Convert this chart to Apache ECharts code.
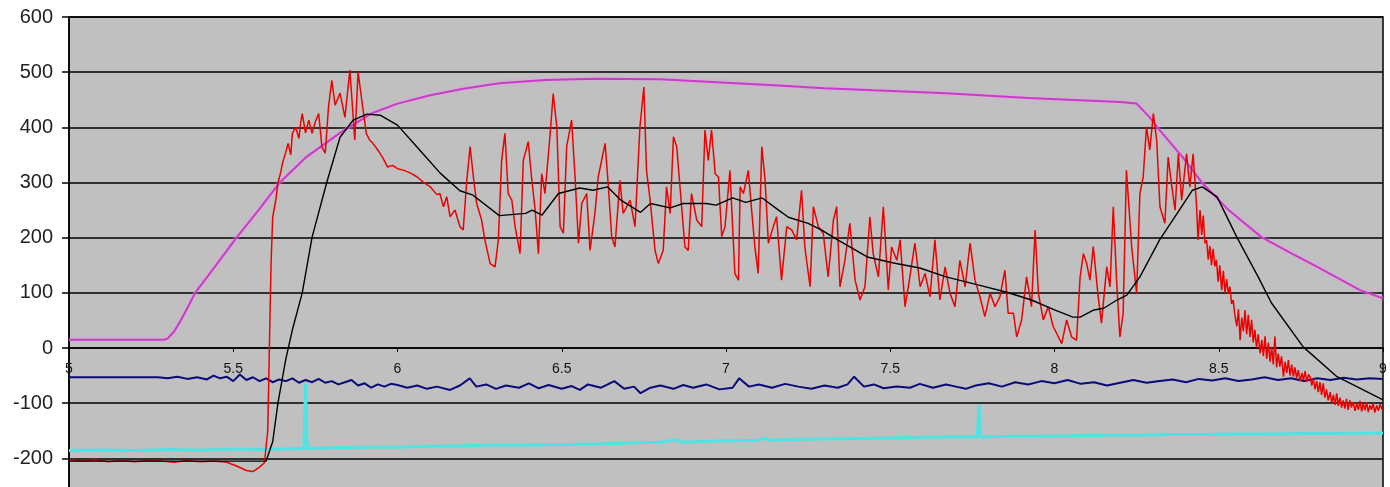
<!DOCTYPE html>
<html><head><meta charset="utf-8">
<script src="https://cdn.jsdelivr.net/npm/echarts@6/dist/echarts.min.js"></script>
<style>html,body{margin:0;padding:0;background:#fff}#c{width:1390px;height:487px}</style>
</head><body><div id="c"></div>
<script>
const magenta = [[5,15],[5.29,15],[5.30,17],[5.32,30],[5.34,50],[5.36,72],[5.384,100],[5.45,152],[5.51,200],[5.58,252],[5.64,299],[5.72,345],[5.825,390],[5.92,425],[6.0,443],[6.1,458],[6.2,470],[6.31,480],[6.45,486],[6.6,488],[6.8,487],[7.0,481],[7.16,476],[7.3,471],[7.45,467],[7.67,462],[7.92,453],[8.2,446],[8.25,443],[8.29,418],[8.32,395],[8.39,346],[8.45,299],[8.53,250],[8.63,201],[8.72,172],[8.8,147],[8.93,105],[9,90]];

const red = [[5.00,-203],[5.04,-205],[5.08,-203],[5.12,-206],[5.16,-204],[5.20,-206],[5.24,-204],[5.28,-205],[5.32,-207],[5.36,-204],[5.40,-206],[5.44,-205],[5.48,-207],[5.51,-214],[5.54,-222],[5.56,-224],[5.58,-216],[5.595,-208],[5.605,-150],[5.61,0],[5.615,150],[5.62,237],[5.63,270],[5.636,299],[5.645,320],[5.65,335],[5.66,355],[5.667,371],[5.675,350],[5.68,389],[5.69,400],[5.70,380],[5.705,407],[5.71,425],[5.72,390],[5.73,413],[5.74,389],[5.75,410],[5.76,425],[5.77,364],[5.78,353],[5.79,437],[5.80,485],[5.81,440],[5.825,462],[5.84,418],[5.855,504],[5.87,377],[5.88,500],[5.89,455],[5.905,389],[5.915,377],[5.925,371],[5.94,359],[5.955,345],[5.97,328],[5.985,331],[6.00,325],[6.02,322],[6.04,317],[6.06,310],[6.08,300],[6.10,292],[6.12,278],
[6.129,280],[6.140,256],[6.150,274],[6.160,238],[6.175,250],[6.190,220],[6.200,214],[6.211,304],[6.221,365],[6.231,310],[6.241,262],[6.256,232],[6.266,196],[6.282,153],[6.297,147],[6.307,196],[6.317,340],[6.327,389],[6.337,280],[6.348,268],[6.358,220],[6.373,171],[6.383,340],[6.398,374],[6.408,310],[6.419,250],[6.429,171],[6.439,316],[6.449,280],[6.464,383],[6.474,461],[6.485,401],[6.495,220],[6.505,208],[6.515,365],[6.530,413],[6.540,316],[6.551,190],[6.561,262],[6.576,280],[6.586,177],[6.601,244],[6.611,310],[6.632,371],[6.642,292],[6.652,202],[6.662,183],[6.677,304],[6.687,244],[6.708,268],[6.723,220],[6.738,401],[6.750,473],[6.758,322],[6.769,268],[6.784,177],[6.794,153],[6.809,177],[6.819,292],[6.830,244],[6.840,383],[6.850,365],[6.860,292],[6.875,183],[6.885,177],[6.895,280],[6.911,232],[6.926,220],[6.936,395],[6.946,340],[6.956,395],[6.967,316],[6.977,310],[6.987,202],[6.997,220],[7.012,322],[7.027,135],[7.038,123],
[7.043,292],[7.053,280],[7.068,322],[7.078,250],[7.088,183],[7.098,135],[7.109,365],[7.119,304],[7.129,190],[7.144,220],[7.154,238],[7.169,123],[7.185,220],[7.200,214],[7.215,196],[7.230,286],[7.240,183],[7.256,111],[7.266,256],[7.281,220],[7.296,208],[7.311,129],[7.327,232],[7.337,256],[7.347,111],[7.362,159],[7.377,226],[7.393,123],[7.408,87],[7.423,111],[7.438,238],[7.448,171],[7.464,129],[7.479,256],[7.494,105],[7.504,183],[7.520,159],[7.530,196],[7.545,75],[7.555,111],[7.575,190],[7.591,111],[7.606,135],[7.621,93],[7.636,196],[7.651,87],[7.667,147],[7.682,99],[7.697,75],[7.712,159],[7.728,111],[7.743,190],[7.758,123],[7.773,93],[7.788,57],[7.804,99],[7.819,75],[7.834,93],[7.849,141],[7.859,63],[7.875,63],[7.885,20],[7.900,51],[7.915,129],[7.930,75],[7.941,214],[7.951,99],[7.966,51],[7.981,75],[7.996,39],[8.012,20],
[8.022,8],[8.037,51],[8.052,20],[8.067,14],[8.078,129],[8.088,171],[8.098,153],[8.108,123],[8.118,184],[8.133,93],[8.143,45],[8.159,147],[8.169,111],[8.179,256],[8.189,123],[8.199,20],[8.209,63],
[8.219,322],[8.235,183],[8.250,99],[8.260,280],[8.270,310],[8.280,401],[8.290,359],[8.301,425],[8.311,377],[8.321,256],[8.336,226],[8.346,346],[8.356,298],[8.367,250],[8.377,352],[8.387,268],[8.402,352],[8.412,292],[8.422,352],[8.432,262],[8.437,196],[8.443,250],[8.448,205],[8.453,240],[8.458,190],[8.463,195],[8.468,160],[8.473,185],[8.478,150],[8.483,180],[8.488,148],[8.493,160],[8.498,120],[8.503,150],[8.509,105],[8.514,140],[8.519,100],[8.524,125],[8.529,99],[8.534,111],[8.539,80],
[8.544,87],[8.549,60],[8.555,39],[8.560,70],[8.565,14],[8.570,55],[8.575,30],[8.580,69],[8.585,25],[8.590,60],[8.595,20],[8.600,51],[8.605,10],[8.610,33],[8.615,0],[8.620,25],[8.626,-10],[8.631,15],[8.636,-15],[8.641,21],[8.646,-20],[8.651,10],[8.656,-25],[8.661,2],[8.666,-30],[8.671,21],[8.676,-35],[8.681,-10],[8.686,-34],[8.691,-15],[8.697,-52],[8.702,-25],[8.707,-45],[8.712,-22],[8.717,-50],[8.722,-30],[8.727,-52],[8.732,-35],[8.737,-55],[8.742,-40],[8.748,-60],[8.753,-45],[8.758,-58],[8.763,-42],[8.768,-62],[8.773,-48],[8.778,-52],[8.783,-68],[8.788,-55],[8.793,-75],[8.798,-60],[8.803,-80],[8.808,-62],[8.813,-85],[8.818,-64],[8.823,-90],[8.828,-75],[8.833,-95],[8.839,-80],[8.844,-100],[8.849,-85],[8.854,-103],[8.859,-82],[8.864,-105],[8.869,-90],[8.874,-108],[8.879,-95],[8.884,-110],[8.889,-92],[8.894,-112],[8.899,-95],[8.904,-108],[8.909,-98],[8.915,-114],[8.920,-100],[8.925,-112],[8.930,-96],[8.935,-115],[8.940,-100],[8.945,-113],[8.950,-98],[8.955,-116],[8.960,-104],[8.965,-112],[8.970,-100],[8.975,-117],[8.981,-104],[8.986,-114],[8.991,-102],[8.998,-112]];

const black = [[5.00,-205],[5.60,-205],[5.62,-170],[5.636,-100],[5.66,-20],[5.68,33],[5.71,100],[5.74,201],[5.785,301],[5.825,382],[5.865,413],[5.907,424],[5.947,422],[6.00,404],[6.06,364],[6.13,317],[6.19,285],[6.23,277],[6.31,240],[6.39,244],[6.41,250],[6.44,241],[6.49,280],[6.555,290],[6.595,286],[6.64,292],[6.68,268],[6.74,246],[6.77,262],[6.83,254],[6.87,262],[6.94,262],[6.97,259],[7.02,272],[7.06,264],[7.11,272],[7.16,250],[7.19,237],[7.25,226],[7.29,214],[7.34,196],[7.43,165],[7.51,154],[7.59,145],[7.67,129],[7.77,114],[7.855,101],[7.93,87],[8.00,69],[8.056,56],[8.078,56],[8.12,69],[8.15,72],[8.19,87],[8.22,96],[8.26,129],[8.32,196],[8.38,250],[8.42,286],[8.45,292],[8.495,274],[8.555,201],[8.62,129],[8.66,82],[8.757,2],[8.86,-52],[9.00,-94]];

const navy = [[5.00,-53],[5.10,-53],[5.20,-53],[5.27,-53],[5.30,-55],[5.33,-52],[5.36,-56],[5.39,-53],[5.42,-57],[5.44,-50],[5.46,-55],[5.48,-52],[5.50,-60],[5.52,-48],[5.54,-58],[5.56,-53],[5.58,-60],[5.60,-55],[5.62,-62],[5.64,-57],[5.66,-60],[5.68,-55],[5.70,-63],[5.72,-58],[5.74,-62],[5.76,-56],[5.78,-63],[5.80,-60],[5.82,-66],[5.84,-62],[5.86,-58],[5.88,-68],[5.90,-64],[5.92,-72],[5.94,-66],[5.96,-70],[5.98,-65],[6.00,-67],[6.03,-72],[6.06,-68],[6.09,-74],[6.12,-70],[6.16,-76],[6.19,-68],[6.22,-55],[6.24,-70],[6.27,-66],[6.30,-74],[6.33,-68],[6.37,-72],[6.40,-64],[6.43,-73],[6.46,-67],[6.50,-74],[6.53,-69],[6.555,-76],[6.58,-66],[6.62,-72],[6.66,-60],[6.69,-74],[6.72,-70],[6.74,-82],[6.77,-72],[6.80,-68],[6.84,-74],[6.87,-67],[6.90,-72],[6.94,-66],[6.98,-75],[7.02,-72],[7.04,-55],[7.07,-70],[7.10,-66],[7.14,-72],[7.18,-65],[7.22,-70],[7.26,-74],[7.30,-68],[7.34,-72],[7.37,-66],[7.39,-52],[7.42,-70],[7.45,-66],[7.48,-73],[7.52,-70],[7.56,-72],[7.59,-65],[7.63,-72],[7.67,-66],[7.70,-70],[7.73,-74],[7.76,-68],[7.80,-64],[7.84,-70],[7.88,-62],[7.92,-66],[7.96,-60],[8.00,-64],[8.04,-58],[8.08,-65],[8.12,-62],[8.16,-68],[8.20,-63],[8.24,-58],[8.28,-63],[8.32,-60],[8.36,-57],[8.40,-62],[8.44,-56],[8.48,-59],[8.52,-55],[8.56,-60],[8.60,-57],[8.64,-53],[8.68,-58],[8.72,-55],[8.76,-60],[8.80,-55],[8.84,-58],[8.88,-54],[8.92,-57],[8.96,-55],[9.00,-56]];

const cyan = [[5.00,-186],[5.10,-185],[5.20,-186],[5.30,-184],[5.40,-185],[5.50,-183],[5.60,-184],[5.70,-182],[5.715,-182],[5.72,-65],[5.725,-182],[5.80,-181],[5.90,-180],[6.00,-180],[6.10,-178],[6.20,-177],[6.30,-176],[6.40,-176],[6.50,-175],[6.60,-174],[6.70,-172],[6.80,-171],[6.85,-166],[6.86,-171],[6.90,-170],[7.00,-168],[7.10,-167],[7.12,-163],[7.13,-167],[7.20,-166],[7.30,-165],[7.40,-164],[7.50,-163],[7.60,-162],[7.70,-161],[7.765,-161],[7.77,-103],[7.775,-161],[7.85,-160],[7.95,-160],[8.05,-159],[8.15,-158],[8.25,-158],[8.35,-157],[8.45,-157],[8.55,-156],[8.65,-156],[8.75,-155],[8.85,-155],[9.00,-154]];

const yMin = -300, yMax = 600;
const plotTop = 17, pxPerUnit = 331 / 600;
const plotHeight = (yMax - yMin) * pxPerUnit;

const chart = echarts.init(document.getElementById('c'), null, {renderer: 'canvas'});
const mk = (data, color, width, z, extra) => Object.assign({
  type: 'line', data: data, showSymbol: false, symbol: 'none', smooth: false,
  sampling: null, z: z, animation: false,
  lineStyle: {color: color, width: width}
}, extra || {});
chart.setOption({
  animation: false,
  backgroundColor: '#ffffff',
  grid: {left: 69, top: plotTop, width: 1314, height: plotHeight, outerBoundsMode: 'none', containLabel: false,
         show: true, backgroundColor: '#c0c0c0', borderColor: '#000', borderWidth: 1.5},
  xAxis: {
    type: 'value', min: 5, max: 9, interval: 0.5, position: 'bottom',
    offset: -(0 - yMin) * pxPerUnit,
    axisLine: {show: true, onZero: false, lineStyle: {color: '#000', width: 1.5}},
    axisTick: {show: true, inside: false, length: 4, lineStyle: {color: '#000', width: 1}},
    axisLabel: {margin: 14, color: '#111', fontSize: 14, fontFamily: '"Liberation Sans Narrow", "Liberation Sans", Arial, sans-serif', showMinLabel: true, showMaxLabel: true, hideOverlap: false},
    splitLine: {show: false}
  },
  yAxis: {
    type: 'value', min: yMin, max: yMax, interval: 100,
    axisLine: {show: true, lineStyle: {color: '#000', width: 1.5}},
    axisTick: {show: true, inside: false, length: 7, lineStyle: {color: '#000', width: 1.5}},
    axisLabel: {margin: 16, fontSize: 20, color: '#222', fontFamily: '"Liberation Sans", Arial, sans-serif'},
    splitLine: {show: true, lineStyle: {color: '#000', width: 1.5}}
  },
  series: [
    mk(cyan, '#4fe3e3', 3, 2),
    mk(navy, '#0a0a78', 2, 3),
    mk(magenta, '#c83cc8', 2, 4, {lineStyle: {color: '#c83cc8', width: 2, shadowColor: 'rgba(240,150,240,0.9)', shadowBlur: 3}}),
    mk(red, '#ee0000', 1.5, 5),
    mk(black, '#000000', 1.4, 6)
  ]
});
</script>
</body></html>
